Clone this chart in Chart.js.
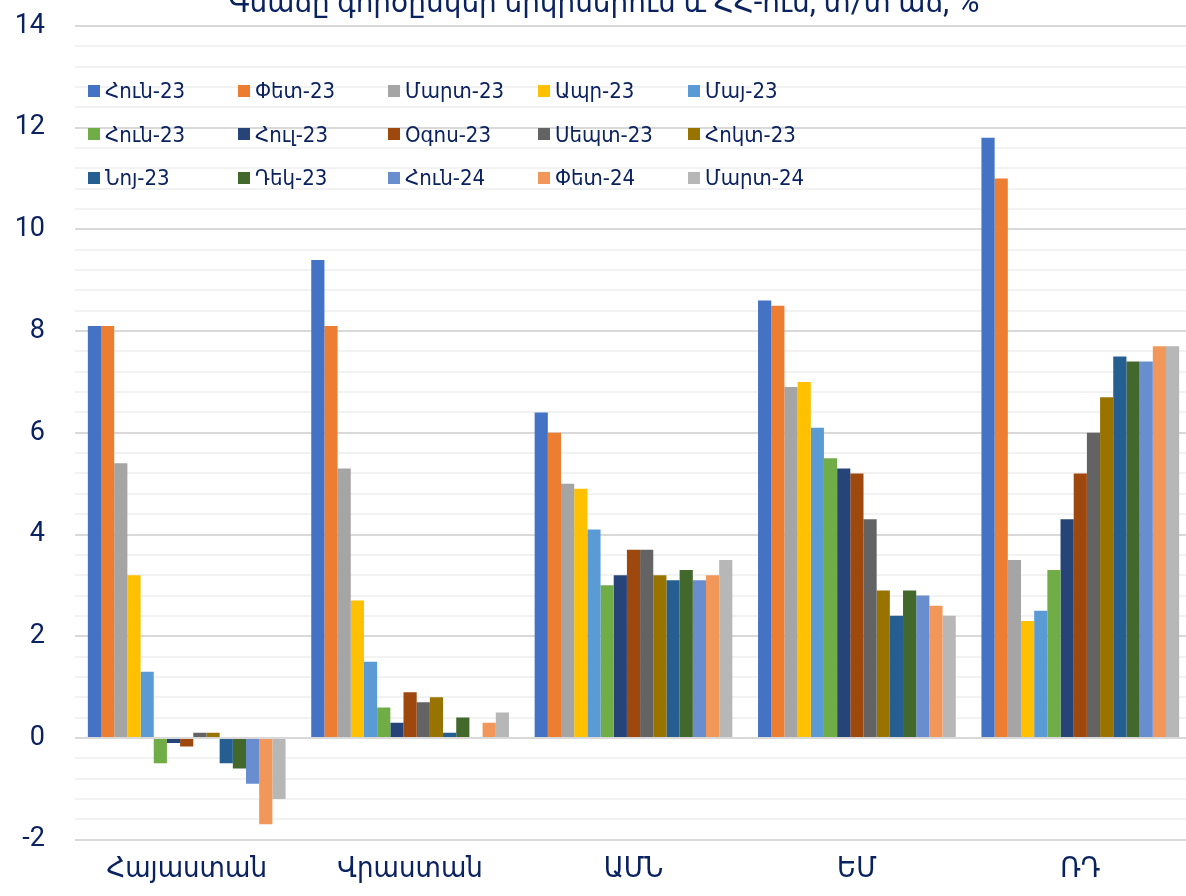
<!DOCTYPE html>
<html>
<head>
<meta charset="utf-8">
<script src="https://cdn.jsdelivr.net/npm/chart.js@4.4.1/dist/chart.umd.min.js"></script>
<style>
  html, body { margin: 0; padding: 0; background: #fff; overflow: hidden; }
  #wrap { position: absolute; left: 0; top: -14px; width: 1192px; height: 912px; }
  #legend { position: absolute; left: 0; top: 0; width: 900px; height: 200px; pointer-events: none; }
  .item { position: absolute; display: flex; align-items: center; white-space: nowrap;
          font: 22px 'DejaVu Sans Condensed', 'DejaVu Sans', sans-serif; color: #0b2260; }
  .sw { width: 12px; height: 12px; margin-right: 5px; }
</style>
</head>
<body>
<div id="wrap"><canvas id="chart"></canvas></div>
<div id="legend"></div>
<script>
// Inflation in partner countries and Armenia, y/y, %

const TITLE = 'Գնաճը գործընկեր երկրներում և ՀՀ-ում, տ/տ աճ, %';
const TEXT = '#0b2260';
const FONT = "Roboto, 'DejaVu Sans Condensed', 'DejaVu Sans', sans-serif";

const countries = ['Հայաստան', 'Վրաստան', 'ԱՄՆ', 'ԵՄ', 'ՌԴ'];

const months = [
  'Հուն-23', 'Փետ-23', 'Մարտ-23', 'Ապր-23', 'Մայ-23',
  'Հուն-23', 'Հուլ-23', 'Օգոս-23', 'Սեպտ-23', 'Հոկտ-23',
  'Նոյ-23', 'Դեկ-23', 'Հուն-24', 'Փետ-24', 'Մարտ-24',
];

const COLORS = [
  '#4472c4', '#ed7d31', '#a5a5a5', '#ffc000', '#5b9bd5',
  '#70ad47', '#264478', '#9e480e', '#636363', '#997300',
  '#255e91', '#43682b', '#698ed0', '#f1975a', '#b7b7b7',
];

// one array per country, in month order
const armenia = [8.1, 8.1, 5.4, 3.2, 1.3, -0.5, -0.1, -0.17, 0.1, 0.1, -0.5, -0.6, -0.9, -1.7, -1.2];
const georgia = [9.4, 8.1, 5.3, 2.7, 1.5, 0.6, 0.3, 0.9, 0.7, 0.8, 0.1, 0.4, 0, 0.3, 0.5];
const usa     = [6.4, 6.0, 5.0, 4.9, 4.1, 3.0, 3.2, 3.7, 3.7, 3.2, 3.1, 3.3, 3.1, 3.2, 3.5];
const eu      = [8.6, 8.5, 6.9, 7.0, 6.1, 5.5, 5.3, 5.2, 4.3, 2.9, 2.4, 2.9, 2.8, 2.6, 2.4];
const russia  = [11.8, 11.0, 3.5, 2.3, 2.5, 3.3, 4.3, 5.2, 6.0, 6.7, 7.5, 7.4, 7.4, 7.7, 7.7];

const byCountry = [armenia, georgia, usa, eu, russia];

const yMin = -2;
const yMax = 14;
const yStep = 0.4;   // minor grid
const yMajor = 2;    // labelled grid

function isMajor(v) {
  const q = v / yMajor;
  return Math.abs(q - Math.round(q)) < 1e-6;
}

// --- Legend (html, 5 columns x 3 rows) ---

function buildLegend() {
  const box = document.getElementById('legend');
  months.forEach((m, i) => {
    const col = i % 5;
    const row = Math.floor(i / 5);
    const el = document.createElement('div');
    el.className = 'item';
    el.style.left = (88 + col * 150) + 'px';
    el.style.top = (78 + row * 43.5) + 'px';
    const sw = document.createElement('span');
    sw.className = 'sw';
    sw.style.background = COLORS[i];
    el.appendChild(sw);
    el.appendChild(document.createTextNode(m));
    box.appendChild(el);
  });
}

// --- Chart ---

function renderChart() {
  const datasets = months.map((m, i) => ({
    label: m,
    data: byCountry.map(arr => arr[i]),
    backgroundColor: COLORS[i],
    borderWidth: 0,
    barPercentage: 1,
    categoryPercentage: 0.885,
  }));

  new Chart(document.getElementById('chart'), {
    type: 'bar',
    data: { labels: countries, datasets },
    options: {
      responsive: true,
      maintainAspectRatio: false,
      animation: false,
      layout: { padding: { left: 16, right: 0, top: 0, bottom: 5.6 } },
      plugins: {
        legend: { display: false },
        tooltip: { enabled: false },
        title: {
          display: true,
          text: TITLE,
          color: TEXT,
          font: { family: FONT, size: 31, weight: 'normal' },
          padding: { top: 0, bottom: 2.8 },
        },
      },
      scales: {
        x: {
          grid: { display: false },
          border: { display: false },
          ticks: { color: TEXT, font: { family: FONT, size: 29 }, padding: 5 },
          afterFit: s => { s.paddingLeft = 0; s.paddingRight = 0; },
        },
        y: {
          min: yMin,
          max: yMax,
          border: { display: false },
          grid: {
            drawTicks: false,
            lineWidth: 2,
            color: ctx => isMajor(ctx.tick.value) ? '#d9d9d9' : '#f2f2f2',
          },
          ticks: {
            stepSize: yStep,
            autoSkip: false,
            maxTicksLimit: 100,
            padding: 30,
            color: TEXT,
            font: { family: FONT, size: 27 },
            callback: v => isMajor(v) ? String(Math.round(v)) : '',
          },
          afterFit: s => { s.width = 59; s.paddingTop = 0; s.paddingBottom = 0; },
        },
      },
    },
  });
}

buildLegend();
renderChart();
</script>
</body>
</html>
